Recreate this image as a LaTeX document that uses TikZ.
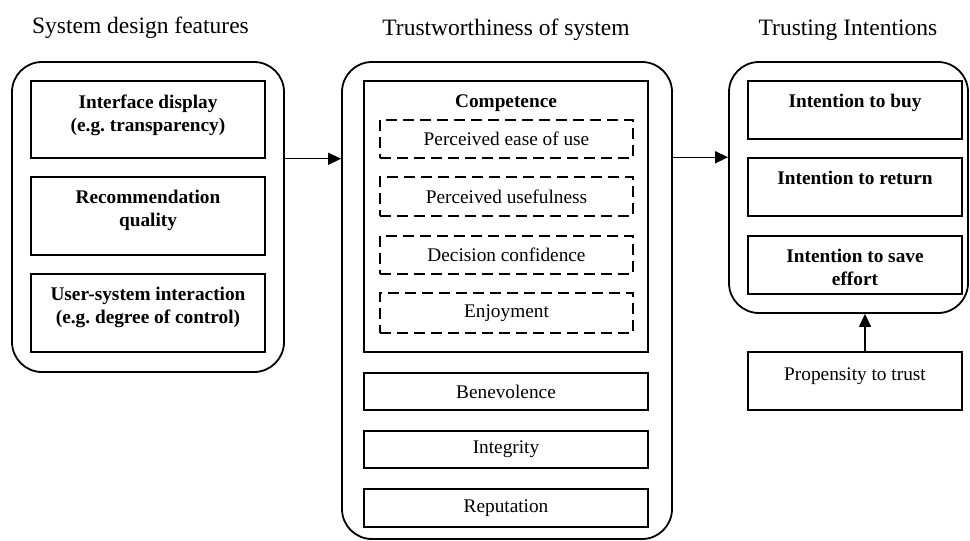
\documentclass[tikz,border=0pt]{standalone}
\usepackage{fontspec}
\setmainfont{Liberation Serif}
\usetikzlibrary{arrows.meta}
\frenchspacing
\begin{document}
\begin{tikzpicture}[x=1pt,y=-1pt,
  outer/.style={draw, line width=1.8pt, rounded corners=30pt, inner sep=0pt},
  box/.style={draw, line width=1.5pt, inner sep=0pt, font=\fontsize{19.3}{23}\selectfont},
  dbox/.style={box, dash pattern=on 11pt off 6pt},
  boldtxt/.style={font=\fontsize{19.3}{23}\selectfont\bfseries, align=center, inner sep=0pt, anchor=north, yshift=-14pt},
  plaintxt/.style={font=\fontsize{19.3}{23}\selectfont, align=center, inner sep=0pt, anchor=north, yshift=-16pt},
  title/.style={font=\fontsize{23.5}{28}\selectfont, anchor=base, inner sep=0pt},
  arr/.style={line width=1.4pt, -{Triangle[length=13pt,width=12pt]}}]
\useasboundingbox (0,0) rectangle (970,541);

% column headings
\node[title] (t1) at (140.5,33) {System design features};
\node[title] (t2) at (506,35.5) {Trustworthiness of system};
\node[title] (t3) at (848,35.5) {Trusting Intentions};

% left column: system design features
\node[outer, minimum width=272pt, minimum height=310pt] (L) at (148,217) {};
\node[box, minimum width=234pt, minimum height=77pt,
  label={[boldtxt]north:Interface display\\(e.g. transparency)}] (b1) at (148,119.5) {};
\node[box, minimum width=234pt, minimum height=78pt,
  label={[boldtxt]north:Recommendation\\quality}] (b2) at (148,216) {};
\node[box, minimum width=234pt, minimum height=78pt,
  label={[boldtxt]north:User-system interaction\\(e.g. degree of control)}] (b3) at (148,313) {};

% middle column: trustworthiness
\node[outer, minimum width=330pt, minimum height=477pt] (M) at (507,300.5) {};
\node[box, minimum width=284pt, minimum height=271pt,
  label={[boldtxt]north:Competence}] (comp) at (506,216.5) {};
\node[dbox, minimum width=253pt, minimum height=38pt] (d1) at (506.5,139) {Perceived ease of use};
\node[dbox, minimum width=253pt, minimum height=39pt] (d2) at (506.5,196.5) {Perceived usefulness};
\node[dbox, minimum width=253pt, minimum height=38pt] (d3) at (506.5,255) {Decision confidence};
\node[dbox, minimum width=253pt, minimum height=40pt] (d4) at (506.5,313) {Enjoyment};
\node[box, minimum width=284pt, minimum height=37pt] (ben) at (506,391.5) {Benevolence};
\node[box, minimum width=284pt, minimum height=37pt] (int) at (506,449.5) {Integrity};
\node[box, minimum width=284pt, minimum height=38pt] (rep) at (506,508) {Reputation};

% right column: trusting intentions
\node[outer, minimum width=239pt, minimum height=251pt] (R) at (848.5,187.5) {};
\node[box, minimum width=214pt, minimum height=58pt,
  label={[boldtxt]north:Intention to buy}] (r1) at (855,110) {};
\node[box, minimum width=214pt, minimum height=58pt,
  label={[boldtxt]north:Intention to return}] (r2) at (855,187) {};
\node[box, minimum width=214pt, minimum height=58pt,
  label={[boldtxt]north:Intention to save\\effort}] (r3) at (855,265) {};
\node[box, minimum width=214pt, minimum height=58pt,
  label={[plaintxt]north:Propensity to trust}] (prop) at (855,381) {};

% connectors
\draw[arr] (L.east |- b1.south) -- (M.west |- b1.south);
\draw[arr] (M.east |- r2.north) -- (R.west |- r2.north);
\draw[arr] ([xshift=10pt]prop.north) -- ([xshift=10pt]prop.north |- R.south);
\end{tikzpicture}
\end{document}
